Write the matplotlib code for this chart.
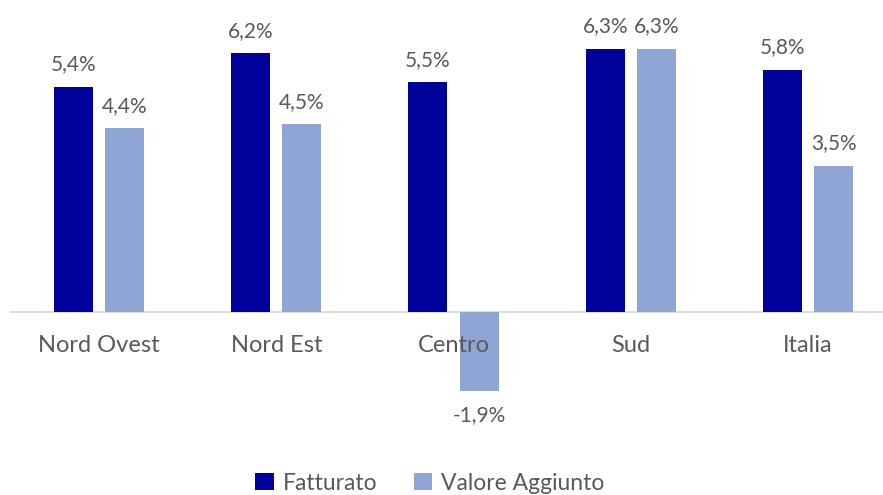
import matplotlib
matplotlib.use("Agg")
import matplotlib.pyplot as plt
import numpy as np

categories = ["Nord Ovest", "Nord Est", "Centro", "Sud", "Italia"]
fatturato = [5.4, 6.2, 5.5, 6.3, 5.8]
valore_aggiunto = [4.4, 4.5, -1.9, 6.3, 3.5]
series_names = ["Fatturato", "Valore Aggiunto"]

dark = "#00009A"
light = "#8FA5D6"
txt = "#595959"

plt.rcParams['font.family'] = ['Lato', 'DejaVu Sans']

W, H = 883, 495
fig = plt.figure(figsize=(W / 100, H / 100), dpi=100)
ax_left = 10.4 / W
ax_right = 896.6 / W
ax_top_px = 0
ax_bot_px = 440
ax = fig.add_axes([ax_left, 1 - ax_bot_px / H, ax_right - ax_left, (ax_bot_px - ax_top_px) / H])

ppu = 41.75
zero_px = 312
ax.set_ylim(-(ax_bot_px - zero_px) / ppu, (zero_px - ax_top_px) / ppu)
ax.set_xlim(-0.5, len(categories) - 0.5)

x = np.arange(len(categories))
bw = 0.22
off = 0.144
b1 = ax.bar(x - off, fatturato, bw, color=dark, label=series_names[0])
b2 = ax.bar(x + off, valore_aggiunto, bw, color=light, label=series_names[1])

def fmt(v):
    return f"{v:.1f}%".replace(".", ",")

for bars, vals in ((b1, fatturato), (b2, valore_aggiunto)):
    for rect, v in zip(bars, vals):
        cx = rect.get_x() + rect.get_width() / 2
        if v >= 0:
            ax.annotate(fmt(v), (cx, v), xytext=(0, 9), textcoords="offset points",
                        ha="center", va="bottom", fontsize=15, color=txt)
        else:
            ax.annotate(fmt(v), (cx, v), xytext=(0, -10), textcoords="offset points",
                        ha="center", va="top", fontsize=15, color=txt)

ax.axhline(0, color="#D9D9D9", lw=1.3, zorder=0)
for s in ax.spines.values():
    s.set_visible(False)
ax.set_yticks([])
ax.set_xticks([])
for xi, c in zip(x, categories):
    ax.text(xi, -(346 - zero_px) / ppu, c, ha="center", va="center", fontsize=17, color=txt)

leg = fig.legend(handles=[b1, b2], labels=series_names, loc="center",
                 bbox_to_anchor=(0.487, 1 - 483 / H), ncol=2, frameon=False,
                 fontsize=16.5, handlelength=0.8, handleheight=0.8,
                 columnspacing=1.6, handletextpad=0.4)
for t in leg.get_texts():
    t.set_color(txt)

fig.savefig("out.png", dpi=100)
